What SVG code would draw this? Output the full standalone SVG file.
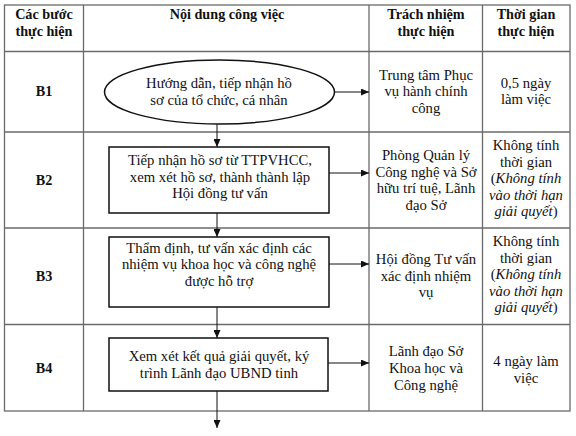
<svg xmlns="http://www.w3.org/2000/svg" width="576" height="436" viewBox="0 0 576 436">
<defs>
<style>
text{font-family:"Liberation Serif","Times New Roman",serif;font-size:14.7px;fill:#111;text-anchor:middle}
.h{font-weight:bold;font-size:14.2px}
.grid{stroke:#6a6a6a;stroke-width:1.3;fill:none}
.box{stroke:#111;stroke-width:1.5;fill:#fff}
.conn{stroke:#111;stroke-width:1;fill:none}
.i{font-style:italic}
</style>
<marker id="ah" markerWidth="8" markerHeight="7" refX="8" refY="3.5" orient="auto" markerUnits="userSpaceOnUse">
<path d="M0,0 L8,3.5 L0,7 Z" fill="#111"/>
</marker>
</defs>
<rect width="576" height="436" fill="#fff"/>
<g id="table">
<rect class="grid" x="4.5" y="5" width="565.5" height="406"/>
<line class="grid" x1="83.5" y1="5" x2="83.5" y2="411"/>
<line class="grid" x1="369" y1="5" x2="369" y2="411"/>
<line class="grid" x1="482.5" y1="5" x2="482.5" y2="411"/>
<line class="grid" x1="4.5" y1="51.5" x2="570" y2="51.5"/>
<line class="grid" x1="4.5" y1="132" x2="570" y2="132"/>
<line class="grid" x1="4.5" y1="228" x2="570" y2="228"/>
<line class="grid" x1="4.5" y1="324.5" x2="570" y2="324.5"/>
</g>
<g id="header">
<text class="h" x="44" y="19">Các bước</text>
<text class="h" x="44" y="36">thực hiện</text>
<text class="h" x="227" y="19">Nội dung công việc</text>
<text class="h" x="426" y="19">Trách nhiệm</text>
<text class="h" x="426" y="36">thực hiện</text>
<text class="h" x="526" y="19">Thời gian</text>
<text class="h" x="526" y="36">thực hiện</text>
</g>
<g id="labels">
<text class="h" x="44" y="96">B1</text>
<text class="h" x="44" y="185">B2</text>
<text class="h" x="44" y="281">B3</text>
<text class="h" x="44" y="373">B4</text>
</g>
<g id="connectors">
<line class="conn" x1="334" y1="92" x2="369" y2="92" marker-end="url(#ah)"/>
<line class="conn" x1="329" y1="173" x2="369" y2="173" marker-end="url(#ah)"/>
<line class="conn" x1="329" y1="264" x2="369" y2="264" marker-end="url(#ah)"/>
<line class="conn" x1="328" y1="363" x2="369" y2="363" marker-end="url(#ah)"/>
<line class="conn" x1="217" y1="124" x2="217" y2="147" marker-end="url(#ah)"/>
<line class="conn" x1="217" y1="213" x2="217" y2="237" marker-end="url(#ah)"/>
<line class="conn" x1="217" y1="307" x2="217" y2="338" marker-end="url(#ah)"/>
<line class="conn" x1="217" y1="391" x2="217" y2="428" marker-end="url(#ah)"/>
</g>
<g id="b1">
<ellipse class="box" cx="219.5" cy="92" rx="115" ry="32"/>
<text x="219" y="88">Hướng dẫn, tiếp nhận hồ</text>
<text x="219" y="105">sơ của tổ chức, cá nhân</text>
</g>
<g id="b2">
<rect class="box" x="109" y="147" width="220" height="66"/>
<text x="220" y="165">Tiếp nhận hồ sơ từ TTPVHCC,</text>
<text x="220" y="182">xem xét hồ sơ, thành thành lập</text>
<text x="220" y="198">Hội đồng tư vấn</text>
</g>
<g id="b3">
<rect class="box" x="109" y="237" width="220" height="70"/>
<text x="219" y="253">Thẩm định, tư vấn xác định các</text>
<text x="219" y="269">nhiệm vụ khoa học và công nghệ</text>
<text x="219" y="286">được hỗ trợ</text>
</g>
<g id="b4">
<rect class="box" x="109" y="338" width="219" height="53"/>
<text x="219" y="361">Xem xét kết quả giải quyết, ký</text>
<text x="219" y="378">trình Lãnh đạo UBND tinh</text>
</g>
<g id="resp">
<text x="426" y="80">Trung tâm Phục</text>
<text x="426" y="96">vụ hành chính</text>
<text x="426" y="113">công</text>
<text x="426" y="160">Phòng Quản lý</text>
<text x="426" y="177">Công nghệ và Sở</text>
<text x="426" y="193">hữu trí tuệ, Lãnh</text>
<text x="426" y="210">đạo Sở</text>
<text x="426" y="264">Hội đồng Tư vấn</text>
<text x="426" y="281">xác định nhiệm</text>
<text x="426" y="297">vụ</text>
<text x="426" y="356">Lãnh đạo Sở</text>
<text x="426" y="373">Khoa học và</text>
<text x="426" y="390">Công nghệ</text>
</g>
<g id="time">
<text x="526" y="88">0,5 ngày</text>
<text x="526" y="104">làm việc</text>
<text x="526" y="150">Không tính</text>
<text x="526" y="167">thời gian</text>
<text x="526" y="183">(<tspan class="i">Không tính</tspan></text>
<text x="526" y="200" class="i">vào thời hạn</text>
<text x="526" y="216"><tspan class="i">giải quyết</tspan>)</text>
<text x="526" y="246">Không tính</text>
<text x="526" y="263">thời gian</text>
<text x="526" y="279">(<tspan class="i">Không tính</tspan></text>
<text x="526" y="296" class="i">vào thời hạn</text>
<text x="526" y="312"><tspan class="i">giải quyết</tspan>)</text>
<text x="526" y="366">4 ngày làm</text>
<text x="526" y="383">việc</text>
</g>
</svg>
